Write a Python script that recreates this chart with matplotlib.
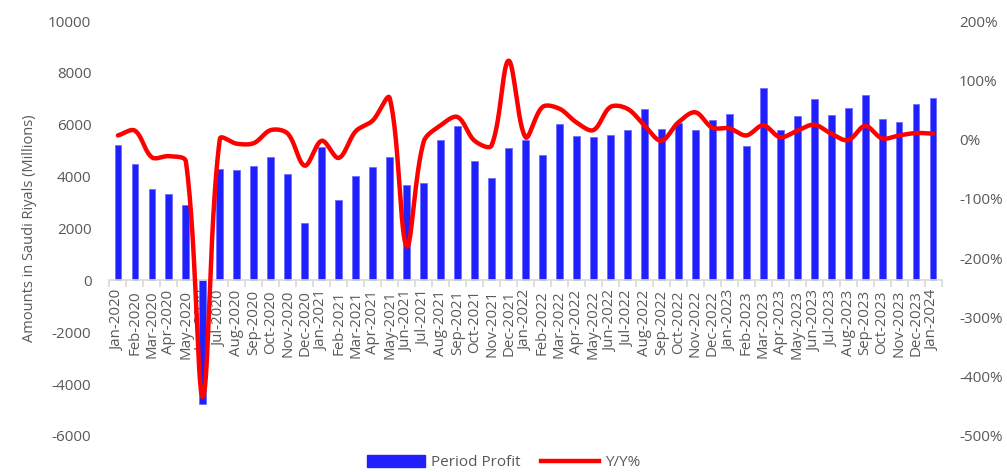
import numpy as np
import matplotlib
matplotlib.use("Agg")
import matplotlib.pyplot as plt
from matplotlib.lines import Line2D
from matplotlib.patches import Patch

plt.rcParams['font.family'] = ['Open Sans', 'DejaVu Sans']
plt.rcParams['axes.unicode_minus'] = False

months = ['Jan', 'Feb', 'Mar', 'Apr', 'May', 'Jun', 'Jul', 'Aug', 'Sep', 'Oct', 'Nov', 'Dec']
labels = ['%s-%d' % (m, y) for y in range(2020, 2024) for m in months] + ['Jan-2024']

period_profit = [5200, 4470, 3520, 3320, 2900, -4750, 4310, 4250, 4400, 4775, 4120, 2200,
                 5135, 3115, 4015, 4375, 4750, 3670, 3760, 5405, 5935, 4605, 3965, 5120,
                 5405, 4815, 6025, 5585, 5535, 5610, 5805, 6590, 5830, 6075, 5805, 6180,
                 6410, 5175, 7425, 5780, 6330, 6990, 6370, 6630, 7145, 6230, 6115, 6810,
                 7015]
yy_pct = [7, 15, -30, -28, -37, -434, 1, -7, -6, 16, 10, -44,
          -2, -31, 14, 32, 70, -180, -4, 24, 38, -2, -10, 133,
          4, 55, 52, 29, 16, 55, 52, 24, -2, 29, 46, 20,
          19, 7, 24, 4, 15, 25, 10, -1, 23, 2, 7, 11,
          10]

GREY = '#595959'
BLUE = '#2020FF'
RED = '#FF0000'


def smooth(x, y, sx=17.0, sy=0.59, n=30):
    # Excel-like smoothed line: bezier segments, tangent lengths scaled by
    # neighbouring segment lengths (measured in screen pixels)
    P = np.column_stack([np.asarray(x, float) * sx, np.asarray(y, float) * sy])
    m = len(P)
    cout = np.zeros_like(P)
    cin = np.zeros_like(P)
    for i in range(m):
        prev = P[max(i - 1, 0)]
        nxt = P[min(i + 1, m - 1)]
        T = nxt - prev
        dp = np.linalg.norm(P[i] - prev)
        dn = np.linalg.norm(nxt - P[i])
        tot = dp + dn if dp + dn > 0 else 1
        cout[i] = P[i] + T * dn / tot / 3
        cin[i] = P[i] - T * dp / tot / 3
    t = np.linspace(0, 1, n, endpoint=False)[:, None]
    segs = []
    for i in range(m - 1):
        b = ((1 - t) ** 3 * P[i] + 3 * (1 - t) ** 2 * t * cout[i]
             + 3 * (1 - t) * t ** 2 * cin[i + 1] + t ** 3 * P[i + 1])
        segs.append(b)
    segs.append(P[-1:])
    out = np.concatenate(segs)
    return out[:, 0] / sx, out[:, 1] / sy


fig = plt.figure(figsize=(10.07, 4.72), dpi=100)
ax = fig.add_axes([0.1087, 0.0763, 0.8263, 0.8792])
x = np.arange(len(labels))

ax.bar(x, period_profit, 0.4, color=BLUE, edgecolor='#6F6FFF', linewidth=0.6, zorder=2)
ax.set_xlim(-0.5, len(labels) - 0.5)
ax.set_ylim(-6000, 10000)
ax.set_yticks(np.arange(-6000, 10001, 2000))
ax.set_ylabel('Amounts in Saudi Riyals (Millions)', color=GREY, fontsize=10.5)
ax.yaxis.set_label_coords(-0.087, 0.5)

for s in ['top', 'right', 'left']:
    ax.spines[s].set_visible(False)
ax.spines['bottom'].set_position(('data', 0))
ax.spines['bottom'].set_color('#D9D9D9')
ax.spines['bottom'].set_linewidth(1.2)

ax.set_xticks(x)
ax.set_xticklabels(labels, rotation=90, fontsize=10.8, color=GREY)
ax.set_xticks(np.arange(-0.5, len(labels)), minor=True)
ax.tick_params(axis='x', which='major', length=0, pad=7)
ax.tick_params(axis='x', which='minor', length=5, color='#D9D9D9', width=1.2)
ax.tick_params(axis='y', length=0, labelsize=11, labelcolor=GREY, pad=13)

ax2 = ax.twinx()
ax2.set_ylim(-500, 200)
ax2.set_yticks(np.arange(-500, 201, 100))
ax2.set_yticklabels(['%d%%' % v for v in range(-500, 201, 100)])
ax2.tick_params(axis='y', length=0, labelsize=11, labelcolor=GREY, pad=12.5)
for s in ax2.spines.values():
    s.set_visible(False)
lx, ly = smooth(x, yy_pct)
ax2.plot(lx, ly, color=RED, linewidth=3.2, solid_capstyle='round', zorder=3)

handles = [Patch(facecolor=BLUE, edgecolor=BLUE),
           Line2D([0], [0], color=RED, linewidth=3.2)]
fig.legend(handles, ['Period Profit', 'Y/Y%'], loc='center', bbox_to_anchor=(0.5, 0.02),
           ncol=2, frameon=False, fontsize=11, labelcolor=GREY,
           handlelength=3.8, handleheight=0.9, columnspacing=1.3, handletextpad=0.4)

fig.savefig('out.png', dpi=100)
